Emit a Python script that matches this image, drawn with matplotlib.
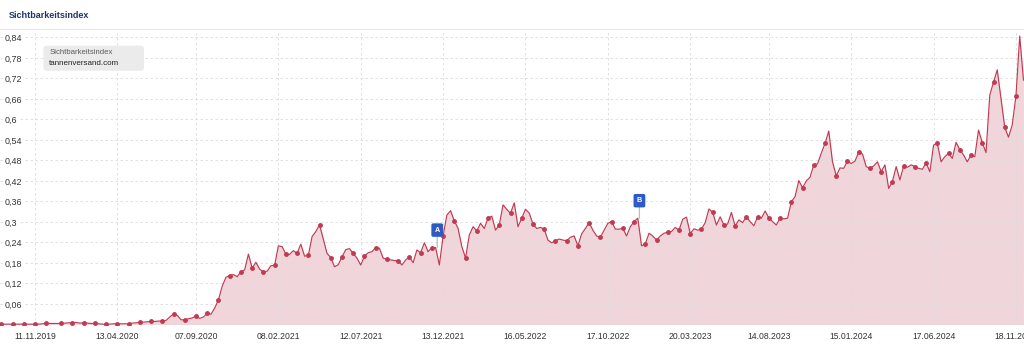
import matplotlib
matplotlib.use("Agg")
import matplotlib.pyplot as plt
import matplotlib.dates as mdates
from matplotlib.patches import FancyBboxPatch
from matplotlib.lines import Line2D
from matplotlib.transforms import IdentityTransform
import numpy as np
import pandas as pd

# weekly Sistrix values (one week missing in Dec 2019)
dates = pd.date_range("2019-09-09", "2024-12-02", freq="7D")
dates = dates[dates != pd.Timestamp("2019-12-16")]

values = [
    0.001, 0.001, 0.001, 0.001, 0.001, 0.001, 0.001, 0.001, 0.001,          # Sep-Nov 2019
    0.001, 0.001, 0.002, 0.003, 0.003, 0.003, 0.003, 0.004, 0.005, 0.005,
    0.006, 0.004, 0.005, 0.004, 0.003, 0.003, 0.002, 0.001, 0.001, 0.001,
    0.002, 0.002, 0.002, 0.002, 0.002, 0.004, 0.005, 0.006, 0.007, 0.008,
    0.009, 0.009, 0.010, 0.010, 0.012, 0.022, 0.031, 0.027, 0.014, 0.013,
    0.017, 0.019, 0.025, 0.018, 0.022, 0.033, 0.030, 0.048, 0.072, 0.112,
    0.138, 0.143, 0.146, 0.140, 0.154, 0.160, 0.206, 0.165, 0.182, 0.162,
    0.154, 0.156, 0.172, 0.173, 0.230, 0.228, 0.206, 0.205, 0.216, 0.208,
    0.235, 0.200, 0.202, 0.257, 0.272, 0.292, 0.250, 0.208, 0.196, 0.169,
    0.175, 0.198, 0.219, 0.222, 0.208, 0.194, 0.174, 0.200, 0.210, 0.213,
    0.225, 0.223, 0.194, 0.191, 0.189, 0.187, 0.187, 0.174, 0.189, 0.197,
    0.181, 0.218, 0.210, 0.239, 0.213, 0.225, 0.225, 0.174, 0.259, 0.320,
    0.333, 0.303, 0.281, 0.228, 0.194, 0.262, 0.286, 0.274, 0.296, 0.281,
    0.311, 0.317, 0.276, 0.291, 0.350, 0.337, 0.325, 0.356, 0.286, 0.311,
    0.337, 0.326, 0.294, 0.281, 0.284, 0.279, 0.247, 0.239, 0.245, 0.250,
    0.247, 0.245, 0.255, 0.259, 0.230, 0.265, 0.281, 0.298, 0.276, 0.259,
    0.255, 0.276, 0.296, 0.301, 0.279, 0.279, 0.281, 0.259, 0.286, 0.301,
    0.311, 0.230, 0.236, 0.267, 0.259, 0.247, 0.259, 0.267, 0.270, 0.272,
    0.284, 0.276, 0.308, 0.314, 0.266, 0.280, 0.276, 0.279, 0.298, 0.338,
    0.328, 0.291, 0.315, 0.291, 0.294, 0.328, 0.288, 0.306, 0.298, 0.315,
    0.301, 0.289, 0.315, 0.311, 0.332, 0.312, 0.301, 0.291, 0.312, 0.309,
    0.311, 0.359, 0.374, 0.421, 0.400, 0.420, 0.431, 0.467, 0.470, 0.501,
    0.530, 0.566, 0.476, 0.435, 0.458, 0.457, 0.478, 0.471, 0.478, 0.504,
    0.499, 0.462, 0.457, 0.464, 0.476, 0.447, 0.467, 0.398, 0.418, 0.462,
    0.423, 0.464, 0.460, 0.467, 0.462, 0.457, 0.454, 0.473, 0.447, 0.525,
    0.530, 0.476, 0.491, 0.501, 0.486, 0.533, 0.511, 0.496, 0.476, 0.496,
    0.491, 0.569, 0.532, 0.503, 0.671, 0.709, 0.745, 0.662, 0.577, 0.548,
    0.584, 0.669, 0.844, 0.715,
]

tick_dates = ["2019-11-11", "2020-04-13", "2020-09-07", "2021-02-08", "2021-07-12",
              "2021-12-13", "2022-05-16", "2022-10-17", "2023-03-20", "2023-08-14",
              "2024-01-15", "2024-06-17", "2024-11-18"]
y_ticks = [0.06, 0.12, 0.18, 0.24, 0.30, 0.36, 0.42, 0.48, 0.54, 0.60, 0.66, 0.72, 0.78, 0.84]

event_labels = ["A", "B"]
event_dates = ["2021-12-02", "2022-12-15"]

LINE = "#c13a52"
FILL = "#f0d6db"

plt.rcParams["font.family"] = ["Liberation Sans", "DejaVu Sans"]

fig = plt.figure(figsize=(10.24, 3.44), dpi=100)
ax = fig.add_axes([0, 1 - 324.5 / 344, 1, 294.5 / 344])

x = mdates.date2num(dates)
ax.fill_between(x, values, 0, color=FILL, lw=0, zorder=1)
ax.plot(x, values, color=LINE, lw=0.85, marker="o", markevery=3, ms=2.5, zorder=3)

# axis limits
x0 = mdates.date2num(pd.Timestamp("2019-11-11"))
ax.set_xlim(x0 - 65.4, x0 + 1849.0)
ax.set_ylim(0, 0.8616)

for s in ax.spines.values():
    s.set_visible(False)

ax.set_axisbelow("line")
ax.set_xticks(mdates.date2num(pd.to_datetime(tick_dates)))
ax.set_xticklabels([pd.Timestamp(d).strftime("%d.%m.%Y") for d in tick_dates])
ax.set_yticks(y_ticks)
ax.set_yticklabels([f"{v:.2f}".rstrip("0").replace(".", ",") for v in y_ticks])
ax.grid(True, color="#dcdcdc", lw=0.6, linestyle=(0, (3, 3)))
ax.tick_params(axis="x", length=0, pad=5.5, labelsize=6.2, labelcolor="#333333")
ax.tick_params(axis="y", length=0, pad=-3.6, labelsize=6.4, labelcolor="#333333")
for lab in ax.get_yticklabels():
    lab.set_horizontalalignment("left")
    lab.set_bbox(dict(fc="white", ec="none", pad=0.6))

# event flags: stem starts at the last weekly value before the event
for lbl, d in zip(event_labels, event_dates):
    xd = mdates.date2num(pd.Timestamp(d))
    i = np.searchsorted(x, xd) - 1
    yd = values[i]
    ax.plot([xd, xd], [yd, yd], lw=0)
    ax.annotate(lbl, xy=(xd, yd), xytext=(0, 12.6), textcoords="offset points",
                ha="center", va="center", color="white", fontsize=5.2, fontweight="bold",
                bbox=dict(boxstyle="round,pad=0.45,rounding_size=0.25", fc="#2d5bc3", ec="none"),
                arrowprops=dict(arrowstyle="-", color="#bdbdbd", lw=0.9, shrinkA=0, shrinkB=0),
                zorder=5)

# header
fig.text(9 / 1024, 1 - 15 / 344, "Sichtbarkeitsindex", fontsize=6.5, fontweight="bold",
         color="#1f3468", va="center", ha="left")
fig.add_artist(Line2D([0, 1], [1 - 29.3 / 344] * 2, transform=fig.transFigure,
                      color="#e8e8e8", lw=0.8))

# legend box
box = FancyBboxPatch((43.5, 344 - 70.7), 100.5, 25, boxstyle="round,pad=0,rounding_size=3",
                     fc="#ebebeb", ec="none", transform=IdentityTransform(), zorder=6)
fig.add_artist(box)
fig.text(49.3 / 1024, 1 - 52.7 / 344, "Sichtbarkeitsindex", fontsize=5.6, color="#5a5a5a",
         va="center", ha="left", zorder=7)
fig.text(49.3 / 1024, 1 - 63.3 / 344, "tannenversand.com", fontsize=5.8, color="#222222",
         va="center", ha="left", zorder=7)

fig.savefig("out.png", dpi=100)
